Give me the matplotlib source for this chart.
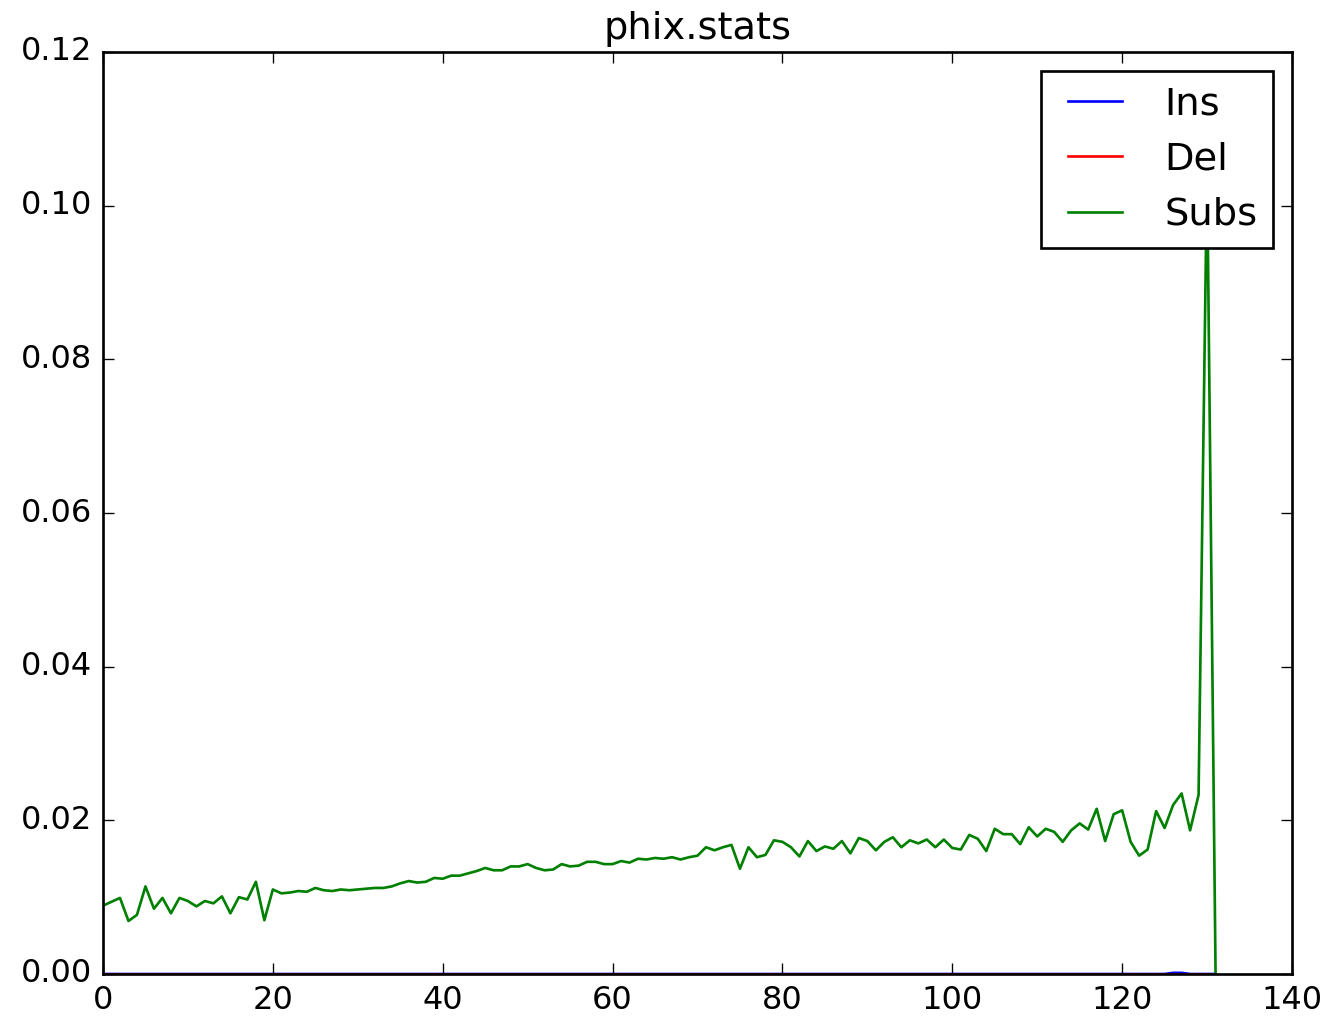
import numpy as np
import matplotlib
matplotlib.use('Agg')
import matplotlib.pyplot as plt

plt.style.use('classic')

# substitution rate per read position
subs = [0.0089, 0.0094, 0.0099, 0.0069, 0.0077, 0.0114, 0.0085, 0.0099, 0.0079, 0.0099,
        0.0095, 0.0088, 0.0095, 0.0092, 0.0101, 0.0079, 0.0100, 0.0097, 0.0120, 0.0070,
        0.0110, 0.0105, 0.0106, 0.0108, 0.0107, 0.0112, 0.0109, 0.0108, 0.0110, 0.0109,
        0.0110, 0.0111, 0.0112, 0.0112, 0.0114, 0.0118, 0.0121, 0.0119, 0.0120, 0.0125,
        0.0124, 0.0128, 0.0128, 0.0131, 0.0134, 0.0138, 0.0135, 0.0135, 0.0140, 0.0140,
        0.0143, 0.0138, 0.0135, 0.0136, 0.0143, 0.0140, 0.0141, 0.0146, 0.0146, 0.0143,
        0.0143, 0.0147, 0.0145, 0.0150, 0.0149, 0.0151, 0.0150, 0.0152, 0.0149, 0.0152,
        0.0154, 0.0165, 0.0161, 0.0165, 0.0168, 0.0137, 0.0165, 0.0152, 0.0155, 0.0174,
        0.0172, 0.0165, 0.0153, 0.0173, 0.0160, 0.0166, 0.0163, 0.0173, 0.0157, 0.0177,
        0.0173, 0.0161, 0.0172, 0.0178, 0.0165, 0.0174, 0.0170, 0.0175, 0.0165, 0.0175,
        0.0164, 0.0162, 0.0181, 0.0176, 0.0160, 0.0189, 0.0182, 0.0182, 0.0169, 0.0191,
        0.0179, 0.0189, 0.0185, 0.0172, 0.0187, 0.0196, 0.0188, 0.0215, 0.0173, 0.0208,
        0.0213, 0.0172, 0.0154, 0.0162, 0.0212, 0.0190, 0.0220, 0.0235, 0.0187, 0.0233,
        0.105, 0.0]

# insertions / deletions are basically zero everywhere
ins = [0.0] * len(subs)
ins[126] = 0.00015
ins[127] = 0.00015
dels = [0.0] * len(subs)

pos = np.arange(len(subs))

fig = plt.figure(figsize=(1330 / 192, 1016 / 192), dpi=192, facecolor='white')
ax = fig.add_axes([103 / 1330, 42 / 1016, 1189 / 1330, 922 / 1016])

ax.plot(pos, ins, color='b', label='Ins')
ax.plot(pos, dels, color='r', label='Del')
ax.plot(pos, subs, color='g', label='Subs')

ax.set_xlim(0, 140)
ax.set_ylim(0, 0.12)
ax.set_title('phix.stats')
ax.legend(loc='upper right')

fig.savefig('out.png', dpi=192, facecolor='white')
